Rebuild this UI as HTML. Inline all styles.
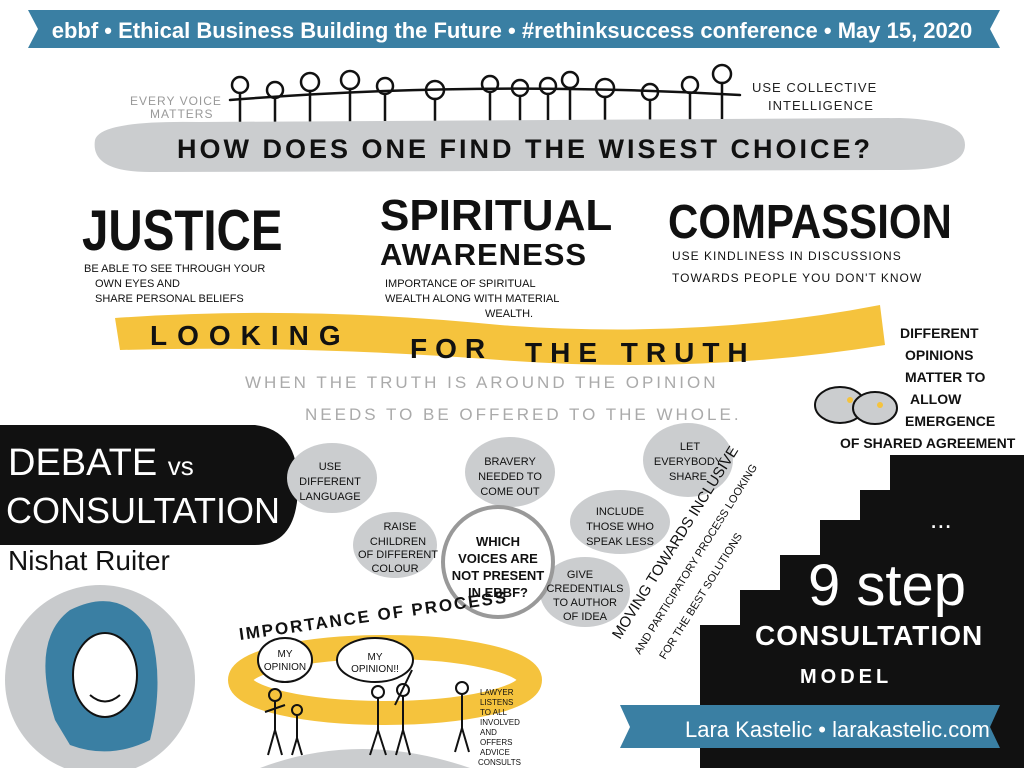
<!DOCTYPE html>
<html><head><meta charset="utf-8"><style>
html,body{margin:0;padding:0;background:#fff;}
svg{display:block;font-family:"Liberation Sans",sans-serif;}
.b{font-weight:bold;}
</style></head><body>
<svg width="1024" height="768" viewBox="0 0 1024 768" xmlns="http://www.w3.org/2000/svg">
<rect width="1024" height="768" fill="#fff"/>
<polygon points="28,10 1000,10 990,29 1000,48 28,48 38,29" fill="#3a7fa3"/>
<text x="512" y="38" text-anchor="middle" fill="#fff" font-size="22" class="b">ebbf • Ethical Business Building the Future • #rethinksuccess conference • May 15, 2020</text>
<g stroke="#111" stroke-width="2.5" fill="none" stroke-linecap="round">
<path d="M230,100 Q480,80 740,95"/>
<circle cx="240" cy="85" r="8"/><circle cx="275" cy="90" r="8"/><circle cx="310" cy="82" r="9"/><circle cx="350" cy="80" r="9"/><circle cx="385" cy="86" r="8"/><circle cx="435" cy="90" r="9"/><circle cx="490" cy="84" r="8"/><circle cx="520" cy="88" r="8"/><circle cx="548" cy="86" r="8"/><circle cx="570" cy="80" r="8"/><circle cx="605" cy="88" r="9"/><circle cx="650" cy="92" r="8"/><circle cx="690" cy="85" r="8"/><circle cx="722" cy="74" r="9"/>
<path d="M240,93 V122 M275,98 V122 M310,91 V122 M350,89 V122 M385,94 V122 M435,99 V122 M490,92 V122 M520,96 V122 M548,94 V122 M570,88 V122 M605,97 V122 M650,100 V122 M690,93 V122 M722,83 V122"/>
</g>
<text x="130" y="105" font-size="12" fill="#999" letter-spacing="1">EVERY VOICE</text>
<text x="150" y="118" font-size="12" fill="#999" letter-spacing="1">MATTERS</text>
<text x="752" y="92" font-size="13" fill="#222" letter-spacing="1">USE COLLECTIVE</text>
<text x="768" y="110" font-size="13" fill="#222" letter-spacing="1">INTELLIGENCE</text>
<path d="M95,140 Q100,120 200,122 L900,118 Q965,120 965,145 Q965,170 900,170 L150,172 Q90,172 95,140Z" fill="#cbcdcf"/>
<text x="525" y="158" text-anchor="middle" font-size="27" class="b" fill="#111" letter-spacing="3">HOW DOES ONE FIND THE WISEST CHOICE?</text>
<text x="82" y="250" font-size="50" class="b" fill="#111" transform="translate(82,250) scale(0.95,1.15) translate(-82,-250)">JUSTICE</text>
<text x="84" y="272" font-size="11" fill="#111">BE ABLE TO SEE THROUGH YOUR</text>
<text x="95" y="287" font-size="11" fill="#111">OWN EYES AND</text>
<text x="95" y="302" font-size="11" fill="#111">SHARE PERSONAL BELIEFS</text>
<text x="380" y="230" font-size="44" class="b" fill="#111">SPIRITUAL</text>
<text x="380" y="265" font-size="31" class="b" fill="#111" letter-spacing="1">AWARENESS</text>
<text x="385" y="287" font-size="11" fill="#111">IMPORTANCE OF SPIRITUAL</text>
<text x="385" y="302" font-size="11" fill="#111">WEALTH ALONG WITH MATERIAL</text>
<text x="485" y="317" font-size="11" fill="#111">WEALTH.</text>
<text x="668" y="238" font-size="42" class="b" fill="#111" transform="translate(668,238) scale(1,1.15) translate(-668,-238)">COMPASSION</text>
<text x="672" y="260" font-size="12" fill="#111" letter-spacing="1">USE KINDLINESS IN DISCUSSIONS</text>
<text x="672" y="282" font-size="12" fill="#111" letter-spacing="1">TOWARDS PEOPLE YOU DON'T KNOW</text>
<path d="M115,318 Q300,305 500,325 Q700,340 880,305 L885,345 Q700,375 500,360 Q300,345 120,350Z" fill="#f5c33d"/>
<text x="150" y="345" font-size="28" class="b" fill="#111" letter-spacing="10">LOOKING</text>
<text x="410" y="358" font-size="28" class="b" fill="#111" letter-spacing="8">FOR</text>
<text x="525" y="362" font-size="28" class="b" fill="#111" letter-spacing="8">THE TRUTH</text>
<text x="245" y="388" font-size="17" fill="#aaa" letter-spacing="3">WHEN THE TRUTH IS AROUND THE OPINION</text>
<text x="305" y="420" font-size="17" fill="#aaa" letter-spacing="3">NEEDS TO BE OFFERED TO THE WHOLE.</text>
<g font-size="14" fill="#111" class="b">
<text x="900" y="338">DIFFERENT</text><text x="905" y="360">OPINIONS</text><text x="905" y="382">MATTER TO</text><text x="910" y="404">ALLOW</text><text x="905" y="426">EMERGENCE</text><text x="840" y="448">OF SHARED AGREEMENT</text>
</g>
<g stroke="#111" stroke-width="2" fill="#cbcdcf">
<ellipse cx="840" cy="405" rx="25" ry="18"/><ellipse cx="875" cy="408" rx="22" ry="16"/>
</g>
<circle cx="850" cy="400" r="3" fill="#f5c33d"/><circle cx="880" cy="405" r="3" fill="#f5c33d"/>
<path d="M0,425 L255,425 Q298,430 298,485 Q298,545 255,545 L0,545Z" fill="#111"/>
<text x="8" y="475" font-size="38" fill="#fff">DEBATE <tspan font-size="26">vs</tspan></text>
<text x="6" y="523" font-size="36" fill="#fff">CONSULTATION</text>
<text x="8" y="570" font-size="28" fill="#111">Nishat Ruiter</text>
<circle cx="100" cy="680" r="95" fill="#c8cacc"/>
<path d="M55,720 Q30,640 70,610 Q120,585 150,630 Q165,680 150,740 Q110,760 70,745Z" fill="#3a7fa3"/>
<ellipse cx="105" cy="675" rx="32" ry="42" fill="#fff" stroke="#111" stroke-width="2"/>
<path d="M90,695 Q105,708 120,695" stroke="#111" stroke-width="2" fill="none"/>
<g fill="#cbcdcf">
<ellipse cx="332" cy="478" rx="45" ry="35"/>
<ellipse cx="395" cy="545" rx="42" ry="33"/>
<ellipse cx="510" cy="472" rx="45" ry="35"/>
<ellipse cx="688" cy="460" rx="45" ry="37"/>
<ellipse cx="620" cy="522" rx="50" ry="32"/>
<ellipse cx="585" cy="592" rx="45" ry="35"/>
</g>
<circle cx="498" cy="562" r="55" fill="#fff" stroke="#999" stroke-width="4"/>
<g font-size="11" fill="#111" text-anchor="middle">
<text x="330" y="470">USE</text><text x="330" y="485">DIFFERENT</text><text x="330" y="500">LANGUAGE</text>
<text x="400" y="530">RAISE</text><text x="398" y="545">CHILDREN</text><text x="398" y="558">OF DIFFERENT</text><text x="395" y="572">COLOUR</text>
<text x="510" y="465">BRAVERY</text><text x="510" y="480">NEEDED TO</text><text x="510" y="495">COME OUT</text>
<text x="690" y="450">LET</text><text x="688" y="465">EVERYBODY</text><text x="688" y="480">SHARE</text>
<text x="620" y="515">INCLUDE</text><text x="620" y="530">THOSE WHO</text><text x="620" y="545">SPEAK LESS</text>
<text x="580" y="578">GIVE</text><text x="585" y="592">CREDENTIALS</text><text x="585" y="606">TO AUTHOR</text><text x="585" y="620">OF IDEA</text>
</g>
<g font-size="13" class="b" fill="#111" text-anchor="middle">
<text x="498" y="546">WHICH</text><text x="498" y="563">VOICES ARE</text><text x="498" y="580">NOT PRESENT</text><text x="498" y="597">IN EBBF?</text>
</g>
<text transform="translate(620,640) rotate(-58)" font-size="15" fill="#111">MOVING TOWARDS INCLUSIVE</text>
<text transform="translate(640,655) rotate(-58)" font-size="11" fill="#111">AND PARTICIPATORY PROCESS LOOKING</text>
<text transform="translate(665,660) rotate(-58)" font-size="11" fill="#111">FOR THE BEST SOLUTIONS</text>
<path d="M700,768 L700,625 L740,625 L740,590 L780,590 L780,555 L820,555 L820,520 L860,520 L860,490 L890,490 L890,455 L1024,455 L1024,768Z" fill="#111"/>
<text x="930" y="528" font-size="26" fill="#fff">...</text>
<text x="808" y="605" font-size="58" fill="#fff">9 step</text>
<text x="755" y="645" font-size="28" class="b" fill="#fff" letter-spacing="1">CONSULTATION</text>
<text x="800" y="683" font-size="20" class="b" fill="#fff" letter-spacing="4">MODEL</text>
<polygon points="620,705 1000,705 990,727 1000,748 620,748 630,727" fill="#3a7fa3"/>
<text x="685" y="737" font-size="22" fill="#fff">Lara Kastelic • larakastelic.com</text>
<text transform="translate(240,640) rotate(-8)" font-size="17" class="b" fill="#111" letter-spacing="2">IMPORTANCE OF PROCESS</text>
<ellipse cx="385" cy="680" rx="145" ry="33" fill="none" stroke="#f5c33d" stroke-width="24"/>
<path d="M260,768 Q360,730 470,768Z" fill="#cbcdcf"/>
<g fill="#fff" stroke="#111" stroke-width="2">
<ellipse cx="285" cy="660" rx="27" ry="22"/><ellipse cx="375" cy="660" rx="38" ry="22"/>
</g>
<g font-size="10" fill="#111" text-anchor="middle"><text x="285" y="657">MY</text><text x="285" y="670">OPINION</text><text x="375" y="660">MY</text><text x="375" y="672">OPINION!!</text></g>
<g stroke="#111" stroke-width="2" fill="none">
<circle cx="275" cy="695" r="6"/><path d="M275,701 V730 L268,755 M275,730 L282,755 M265,712 L285,705"/>
<circle cx="297" cy="710" r="5"/><path d="M297,715 V738 L292,755 M297,738 L302,755"/>
<circle cx="378" cy="692" r="6"/><path d="M378,698 V730 L370,755 M378,730 L386,755"/>
<circle cx="403" cy="690" r="6"/><path d="M403,696 V730 L396,755 M403,730 L410,755 M395,705 L412,670"/>
<circle cx="462" cy="688" r="6"/><path d="M462,694 V728 L455,752 M462,728 L469,752"/>
</g>
<g font-size="8" fill="#111"><text x="480" y="695">LAWYER</text><text x="480" y="705">LISTENS</text><text x="480" y="715">TO ALL</text><text x="480" y="725">INVOLVED</text><text x="480" y="735">AND</text><text x="480" y="745">OFFERS</text><text x="480" y="755">ADVICE</text><text x="478" y="765">CONSULTS</text></g>
</svg>
</body></html>
